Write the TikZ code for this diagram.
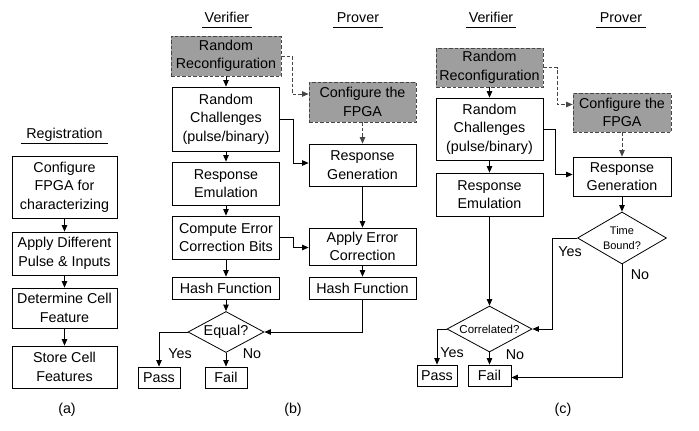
\documentclass[tikz,border=0pt]{standalone}
\usepackage{fontspec}
\setmainfont{Liberation Sans}
\usetikzlibrary{shapes.geometric,arrows.meta,calc}
\definecolor{boxgray}{RGB}{158,158,158}
\definecolor{dashgray}{RGB}{70,70,70}
\tikzset{
  base/.style={align=center, inner sep=0pt, font=\fontsize{14.3}{18.5}\selectfont},
  box/.style={base, draw, line width=0.8pt},
  graybox/.style={base, draw=dashgray, fill=boxgray, line width=0.8pt, dash pattern=on 3.5pt off 2pt},
  dec/.style={base, draw, line width=0.8pt, shape=diamond, aspect=1.85},
  lbl/.style={font=\fontsize{14.3}{16}\selectfont, inner sep=0pt},
  ttl/.style={font=\fontsize{14.3}{16}\selectfont, inner sep=0pt, anchor=base},
  arr/.style={draw, line width=0.8pt, -{Triangle[length=6.5pt,width=5.5pt]}},
  darr/.style={draw=dashgray, line width=0.8pt, dash pattern=on 3.5pt off 2pt, -{Triangle[length=6.5pt,width=5.5pt]}},
  uline/.style={line width=0.8pt},
}
\begin{document}
\begin{tikzpicture}[x=1pt,y=-1pt]
\useasboundingbox[fill=white] (0,0) rectangle (699,431);

% ---------------- (a) ----------------
\node[ttl] (ta) at (64.5,138) {Registration};
\draw[uline] ($(ta.base west)+(-5,5)$) -- ($(ta.base east)+(5,5)$);
\node[box, minimum width=105, minimum height=62] (a1) at (64.5,187) {Configure\\FPGA for\\characterizing};
\node[box, minimum width=105, minimum height=43] (a2) at (64.5,253.5) {Apply Different\\Pulse \& Inputs};
\node[box, minimum width=105, minimum height=40] (a3) at (64.5,308) {Determine Cell\\Feature};
\node[box, minimum width=105, minimum height=42] (a4) at (64.5,367) {Store Cell\\Features};
\draw[arr] (a1) -- (a2);
\draw[arr] (a2) -- (a3);
\draw[arr] (a3) -- (a4);

% ---------------- (b) ----------------
\node[ttl] (tbv) at (227,22) {Verifier};
\draw[uline] ($(tbv.base west)+(-3,5)$) -- ($(tbv.base east)+(3,5)$);
\node[ttl] (tbp) at (358,22) {Prover};
\draw[uline] ($(tbp.base west)+(-4,5)$) -- ($(tbp.base east)+(4,5)$);

\node[graybox, minimum width=110, minimum height=40] (bRR) at (226,56) {Random\\Reconfiguration};
\node[box, minimum width=107, minimum height=64] (bRC) at (226,119) {Random\\Challenges\\(pulse/binary)};
\node[box, minimum width=107, minimum height=43] (bRE) at (226,183.5) {Response\\Emulation};
\node[box, minimum width=107, minimum height=43] (bCE) at (226,237.5) {Compute Error\\Correction Bits};
\node[box, minimum width=107, minimum height=22] (bH) at (226,288) {Hash Function};
\node[dec, minimum width=76, minimum height=41] (bEq) at (226,332) {Equal?};
\node[box, minimum width=42, minimum height=21] (bPass) at (159,377.5) {Pass};
\node[box, minimum width=42, minimum height=21] (bFail) at (226,377.5) {Fail};

\node[graybox, minimum width=107, minimum height=40] (bCF) at (362.5,102) {Configure the\\FPGA};
\node[box, minimum width=107, minimum height=42] (bRG) at (362.5,165) {Response\\Generation};
\node[box, minimum width=107, minimum height=37] (bAE) at (362.5,246.5) {Apply Error\\Correction};
\node[box, minimum width=107, minimum height=22] (bPH) at (362.5,288) {Hash Function};

\draw[arr] (bRR) -- (bRC);
\draw[arr] (bRC) -- (bRE);
\draw[arr] (bRE) -- (bCE);
\draw[arr] (bCE) -- (bH);
\draw[arr] (bH) -- (bEq);
\draw[darr] (bRR.east) -- ++(11,0) |- ([yshift=8pt]bCF.west);
\draw[arr] (bRC.east) -- ++(13,0) |- ([yshift=2pt]bRG.west);
\draw[arr] (bCE.east) -- ++(13,0) |- ([yshift=-1pt]bAE.west);
\draw[darr] (bCF) -- (bRG);
\draw[arr] (bRG) -- (bAE);
\draw[arr] (bAE) -- (bPH);
\draw[arr] (bPH.south) |- (bEq.east);
\draw[arr] (bEq.west) -| (bPass.north);
\draw[arr] (bEq.south) -- (bFail.north);
\node[lbl] (bYes) at (180,354) {Yes};
\node[lbl] (bNo) at (252,354) {No};

% ---------------- (c) ----------------
\node[ttl] (tcv) at (491,22) {Verifier};
\draw[uline] ($(tcv.base west)+(-3,5)$) -- ($(tcv.base east)+(3,5)$);
\node[ttl] (tcp) at (621,22) {Prover};
\draw[uline] ($(tcp.base west)+(-4,5)$) -- ($(tcp.base east)+(4,5)$);

\node[graybox, minimum width=107, minimum height=39] (cRR) at (489.5,67.5) {Random\\Reconfiguration};
\node[box, minimum width=107, minimum height=62] (cRC) at (489.5,129) {Random\\Challenges\\(pulse/binary)};
\node[box, minimum width=107, minimum height=43] (cRE) at (489.5,194.5) {Response\\Emulation};
\node[dec, minimum width=85, minimum height=46, font=\fontsize{11.5}{14}\selectfont] (cCor) at (489.5,329) {Correlated?};
\node[box, minimum width=40, minimum height=21] (cPass) at (437,375.5) {Pass};
\node[box, minimum width=43, minimum height=21] (cFail) at (489.5,375.5) {Fail};

\node[graybox, minimum width=98, minimum height=39] (cCF) at (622,112.5) {Configure the\\FPGA};
\node[box, minimum width=98, minimum height=39] (cRG) at (622,176.5) {Response\\Generation};
\node[dec, minimum width=89, minimum height=52, aspect=1.71, font=\fontsize{11}{15}\selectfont] (cTB) at (622,238) {Time\\Bound?};

\draw[arr] (cRR) -- (cRC);
\draw[arr] (cRC) -- (cRE);
\draw[arr] (cRE) -- (cCor);
\draw[darr] (cRR.east) -- ++(14,0) |- ([yshift=8pt]cCF.west);
\draw[arr] (cRC.east) -- ++(12,0) |- ([yshift=2pt]cRG.west);
\draw[darr] (cCF) -- (cRG);
\draw[arr] (cRG) -- (cTB);
\draw[arr] (cTB.west) -- ++(-25,0) |- (cCor.east);
\draw[arr] (cTB.south) |- ([yshift=-2pt]cFail.east);
\draw[arr] (cCor.west) -| (cPass.north);
\draw[arr] (cCor.south) -- (cFail.north);
\node[lbl] (cYes) at (452,353) {Yes};
\node[lbl] (cNo) at (515,355) {No};
\node[lbl] (cYes2) at (570,252) {Yes};
\node[lbl] (cNo2) at (640,275) {No};

% ---------------- captions ----------------
\node[lbl] (capa) at (67,410) {(a)};
\node[lbl] (capb) at (293,410) {(b)};
\node[lbl] (capc) at (563,410) {(c)};
\end{tikzpicture}
\end{document}
